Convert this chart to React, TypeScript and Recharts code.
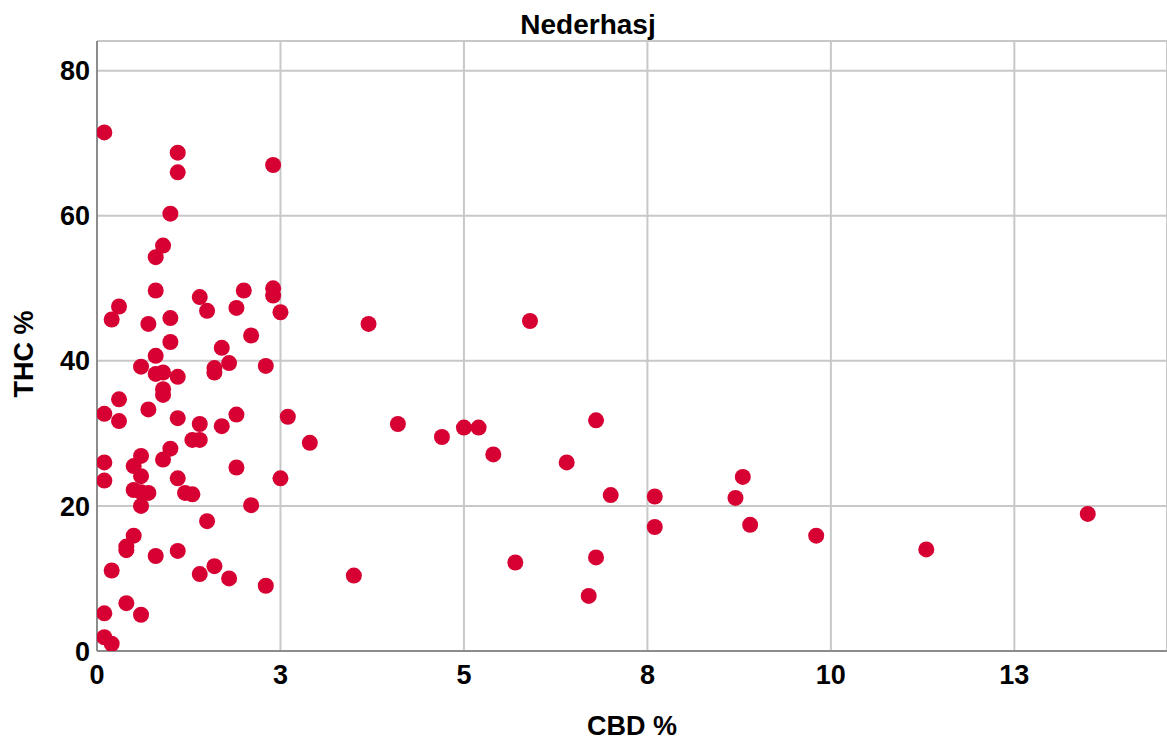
import React from 'react'
import { ScatterChart, Scatter, XAxis, YAxis, CartesianGrid } from 'recharts'

const title = 'Nederhasj'
const xLabel = 'CBD %'
const yLabel = 'THC %'

const cbd = [
  0.1, 1.1, 1.1, 2.4, 1.0, 0.9, 0.8, 0.8, 0.3, 0.2, 0.7, 1.0, 1.4, 1.5, 1.9, 2.0, 2.4, 2.4, 2.5, 3.7,
  5.9, 2.1, 1.0, 1.7, 0.8, 1.8, 1.6, 1.6, 0.6, 2.3, 0.9, 0.8, 1.1, 0.9, 0.9, 0.3, 0.1, 0.7, 0.3, 1.1,
  1.9, 2.6, 6.8, 4.1, 1.4, 1.7, 2.9, 4.7, 5.0, 5.2, 1.3, 1.4, 1.0, 0.6, 5.4, 0.9, 0.1, 0.5, 1.9, 6.4,
  0.6, 8.8, 0.1, 1.1, 2.5, 0.5, 0.6, 0.7, 1.2, 1.3, 7.0, 7.6, 8.7, 0.6, 2.1, 1.5, 13.5, 7.6, 8.9, 9.8,
  0.5, 0.4, 0.4, 1.1, 0.8, 11.3, 6.8, 5.7, 1.6, 0.2, 1.4, 3.5, 1.8, 2.3, 6.7, 0.4, 0.1, 0.6, 0.1, 0.2,
]

const thc = [
  71.5, 68.7, 66.0, 67.0, 60.3, 55.9, 54.3, 49.7, 47.5, 45.7, 45.1, 45.9, 48.8, 46.9, 47.3, 49.7, 50.0, 49.0, 46.7, 45.1,
  45.5, 43.5, 42.6, 41.8, 40.7, 39.7, 39.0, 38.4, 39.2, 39.3, 38.4, 38.2, 37.8, 36.1, 35.3, 34.7, 32.7, 33.3, 31.7, 32.1,
  32.6, 32.3, 31.8, 31.3, 31.3, 31.0, 28.7, 29.5, 30.8, 30.8, 29.1, 29.1, 27.9, 26.9, 27.1, 26.4, 26.0, 25.5, 25.3, 26.0,
  24.1, 24.0, 23.5, 23.8, 23.8, 22.2, 21.9, 21.8, 21.8, 21.6, 21.5, 21.3, 21.1, 20.0, 20.1, 17.9, 18.9, 17.1, 17.4, 15.9,
  15.9, 14.4, 13.9, 13.8, 13.1, 14.0, 12.9, 12.2, 11.7, 11.1, 10.6, 10.4, 10.0, 9.0, 7.6, 6.6, 5.2, 5.0, 1.9, 1.0,
]

// SPSS puts ticks at 2.5 steps but prints them rounded
const xTicks = [0, 2.5, 5, 7.5, 10, 12.5]
const yTicks = [0, 20, 40, 60, 80]

const font = '"Liberation Sans", Arial, sans-serif'
const dotColor = '#d60032'
const gridColor = '#c8c8c8'
const axisColor = '#8c8c8c'

const data = cbd.map((x, i) => ({ cbd: x, thc: thc[i] }))

const tickStyle = { fill: '#000', fontSize: 27, fontWeight: 'bold', fontFamily: font }

const Dot = (props: any) => <circle cx={props.cx} cy={props.cy} r={8} fill={dotColor} />

export default function App() {
  return (
    <div style={{ position: 'absolute', left: 0, top: 0, width: 1167, height: 742, background: '#fff' }}>
      <div
        style={{
          position: 'absolute',
          left: 0,
          top: 9,
          width: 1176,
          textAlign: 'center',
          fontFamily: font,
          fontWeight: 'bold',
          fontSize: 28,
          color: '#000',
        }}
      >
        {title}
      </div>
      <ScatterChart width={1167} height={742} margin={{ top: 41, right: 0, bottom: 0, left: 0 }}>
        <CartesianGrid stroke={gridColor} strokeWidth={2} />
        <XAxis
          type="number"
          dataKey="cbd"
          domain={[0, 14.58]}
          ticks={xTicks}
          tickFormatter={(v: number) => String(Math.round(v))}
          height={91}
          stroke={axisColor}
          strokeWidth={2}
          tickLine={false}
          tickSize={0}
          tickMargin={14}
          tick={tickStyle}
          allowDataOverflow
          label={{ value: xLabel, position: 'insideBottom', offset: 7, style: tickStyle }}
        />
        <YAxis
          type="number"
          dataKey="thc"
          domain={[0, 84.1]}
          ticks={yTicks}
          width={97}
          stroke={axisColor}
          strokeWidth={2}
          tickLine={false}
          tickSize={0}
          tickMargin={7}
          tick={tickStyle}
          allowDataOverflow
          label={{
            value: yLabel,
            content: (props: any) => {
              const vb = props.viewBox
              const cx = vb.x + 24
              const cy = vb.y + vb.height / 2 + 8
              return (
                <text
                  x={cx}
                  y={cy}
                  transform={`rotate(-90 ${cx} ${cy})`}
                  textAnchor="middle"
                  dominantBaseline="central"
                  style={tickStyle}
                >
                  {yLabel}
                </text>
              )
            },
          }}
        />
        <Scatter data={data} fill={dotColor} shape={Dot} isAnimationActive={false} />
      </ScatterChart>
    </div>
  )
}
